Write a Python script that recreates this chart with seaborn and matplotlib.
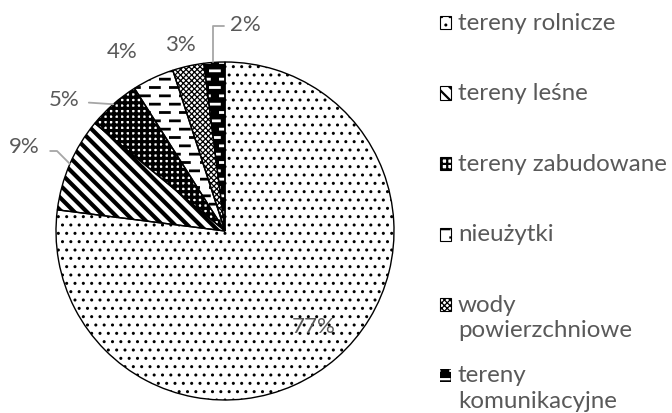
import warnings
import numpy as np
import matplotlib
matplotlib.use("Agg")
import matplotlib.pyplot as plt
import matplotlib.hatch as mhatch
from matplotlib.patches import Patch, Rectangle
from matplotlib.legend_handler import HandlerPatch
import seaborn as sns

warnings.filterwarnings("ignore")

categories = ["tereny rolnicze", "tereny leśne", "tereny zabudowane", "nieużytki",
              "wody\npowierzchniowe", "tereny\nkomunikacyjne"]
values = [77, 9, 5, 4, 3, 2]
pct_labels = ["77%", "9%", "5%", "4%", "3%", "2%"]

sns.set_theme(style="white")
plt.rcParams['font.family'] = ['Lato', 'DejaVu Sans']

TXT = "#595959"
DPI = 100
PX2PT = 72.0 / DPI


class Dashes(mhatch.HatchPatternBase):
    """Staggered short horizontal dashes, hatch char '_'."""
    def __init__(self, hatch, density):
        n = hatch.count('_')
        self.rows = 2 * n * density
        self.cols = max(1, (n * density) // 2 + 2)
        self.num_vertices = self.rows * self.cols * 2 if n else 0

    def set_vertices_and_codes(self, vertices, codes):
        k = 0
        L = 0.45 / self.cols
        for r in range(self.rows):
            y = (r + 0.5) / self.rows
            off = 0.0 if r % 2 == 0 else 0.5 / self.cols
            for c in range(self.cols):
                x0 = c / self.cols + off + 0.02 / self.cols
                vertices[k] = (x0, y)
                vertices[k + 1] = (x0 + L, y)
                codes[k] = mhatch.Path.MOVETO
                codes[k + 1] = mhatch.Path.LINETO
                k += 2


class Diag(mhatch.HatchPatternBase):
    """Back-slash diagonal lines, denser than the builtin, hatch char '~'."""
    def __init__(self, hatch, density):
        self.num_lines = hatch.count('~') * 16
        self.num_vertices = (self.num_lines + 1) * 2 if self.num_lines else 0

    def set_vertices_and_codes(self, vertices, codes):
        steps = np.linspace(-0.5, 0.5, self.num_lines + 1)
        vertices[0::2, 0] = 0.0 + steps
        vertices[0::2, 1] = 1.0 + steps
        vertices[1::2, 0] = 1.0 + steps
        vertices[1::2, 1] = 0.0 + steps
        codes[0::2] = mhatch.Path.MOVETO
        codes[1::2] = mhatch.Path.LINETO


for cls in (Dashes, Diag):
    if cls not in mhatch._hatch_types:
        mhatch._hatch_types.append(cls)

# style per slice: (facecolor, hatchcolor, hatch, hatch linewidth)
styles = [
    ("white", "black", "..", 1.0),
    ("white", "black", "~", 3.0),
    ("white", "black", "+++", 2.3),
    ("white", "black", "_", 2.0),
    ("white", "black", "xxxxxx", 0.9),
    ("black", "white", "_", 2.0),
]

fig = plt.figure(figsize=(6.72, 4.13), dpi=DPI)
FW, FH = 672.0, 413.0
R = 169.0
CX, CY = 225.0, 231.0
W = 2.6 * R
ax = fig.add_axes([(CX - W / 2) / FW, (FH - CY - W / 2) / FH, W / FW, W / FH])

wedges, _ = ax.pie(values, startangle=90, counterclock=False, radius=1.0,
                   wedgeprops=dict(linewidth=0))
for w, (fc, hc, h, hl) in zip(wedges, styles):
    w.set_facecolor(fc)
    w.set_edgecolor(hc)
    w.set_hatch(h)
    if hasattr(w, "set_hatch_linewidth"):
        w.set_hatch_linewidth(hl)
# outlines
ax.pie(values, startangle=90, counterclock=False, radius=1.0,
       wedgeprops=dict(facecolor="none", edgecolor="black", linewidth=1.0))
ax.set_xlim(-1.3, 1.3)
ax.set_ylim(-1.3, 1.3)
ax.set_aspect("equal")
ax.axis("off")

mids = []
for w in wedges:
    a = np.deg2rad((w.theta1 + w.theta2) / 2)
    mids.append((np.cos(a), np.sin(a)))

fs = 16
lc = "#a6a6a6"
# 77% inside
ax.text(0.525, -0.57, pct_labels[0], ha="center", va="center", fontsize=fs, color=TXT)
# 9%
ax.annotate(pct_labels[1], xy=mids[1], xytext=(-1.095, 0.497), ha="right", va="center",
            fontsize=fs, color=TXT,
            arrowprops=dict(arrowstyle="-", color=lc, lw=1.3, shrinkA=5, shrinkB=0,
                            relpos=(1, 0.3),
                            connectionstyle="angle,angleA=0,angleB=135,rad=0"))
# 5%
ax.annotate(pct_labels[2], xy=mids[2], xytext=(-0.858, 0.775), ha="right", va="center",
            fontsize=fs, color=TXT,
            arrowprops=dict(arrowstyle="-", color=lc, lw=1.3, shrinkA=4, shrinkB=0,
                            relpos=(1, 0.4), connectionstyle="arc3,rad=0"))
# 4%, 3%
ax.text(-0.609, 1.059, pct_labels[3], ha="center", va="center", fontsize=fs, color=TXT)
ax.text(-0.266, 1.10, pct_labels[4], ha="center", va="center", fontsize=fs, color=TXT)
# 2%
top_pt = (mids[5][0] * 1.1, np.sqrt(1 - (mids[5][0] * 1.1) ** 2))
ax.annotate(pct_labels[5], xy=top_pt, xytext=(0.03, 1.219),
            ha="left", va="center", fontsize=fs, color=TXT,
            arrowprops=dict(arrowstyle="-", color=lc, lw=1.3, shrinkA=2, shrinkB=0,
                            relpos=(0, 0.45),
                            connectionstyle="angle,angleA=0,angleB=90,rad=0"))

# ---------------- legend (calibrated to the reference layout) ----------------
fig.canvas.draw()
renderer = fig.canvas.get_renderer()

TEXT_X0 = 458.0      # left of legend text, px
TEXT_X1 = 668.0      # right end of the widest label, px
FIRST_CY = 23.0      # centre of the first legend line, px from top
SLOT = 70.6          # distance between legend entries, px
LINE_STEP = 26.0     # line distance inside a two-line label, px
MARK = 11.0          # marker size, px
MARK_GAP = 7.0       # gap marker -> text, px

probe = fig.text(0, 0, "tereny zabudowane", fontsize=20)
lfs = 20 * (TEXT_X1 - TEXT_X0) / probe.get_window_extent(renderer).width
probe.remove()
em = lfs / PX2PT

p1 = fig.text(0, 0, "A", fontsize=lfs, linespacing=1.0)
p2 = fig.text(0, 0, "A\nA", fontsize=lfs, linespacing=1.0)
h1 = p1.get_window_extent(renderer).height
step0 = p2.get_window_extent(renderer).height - h1
p1.remove()
p2.remove()
lsp = LINE_STEP / step0

labels = [c if "\n" in c else c + "\n" for c in categories]
SHIFT_PT = 0.5 * LINE_STEP * PX2PT


def patch_func(legend, orig_handle, xdescent, ydescent, width, height, fontsize):
    return Rectangle((-xdescent, -ydescent + SHIFT_PT), width, height)


handler = HandlerPatch(patch_func=patch_func)


def build_legend(labelspacing, ax_x, ax_y):
    hs = []
    for lab, (fc, hc, h, hl) in zip(labels, styles):
        if fc == "black":
            p = Patch(facecolor="black", edgecolor="white", hatch=h, linewidth=0, label=lab)
        else:
            p = Patch(facecolor=fc, edgecolor="black", hatch=h, linewidth=0.8, label=lab)
        hs.append(p)
    lg = fig.legend(handles=hs, loc="upper left", bbox_to_anchor=(ax_x, ax_y),
                    frameon=False, fontsize=lfs, handlelength=MARK / em,
                    handleheight=MARK / em, handletextpad=MARK_GAP / em,
                    labelspacing=labelspacing, borderaxespad=0, borderpad=0,
                    handler_map={p: handler for p in hs})
    for t in lg.get_texts():
        t.set_color(TXT)
        t.set_linespacing(lsp)
    for lh, (fc, hc, h, hl) in zip(lg.legend_handles, styles):
        if hasattr(lh, "set_hatch_linewidth"):
            lh.set_hatch_linewidth(min(hl, 1.6))
    return lg


ls0 = 1.0
x0 = (TEXT_X0 - MARK - MARK_GAP) / FW
y0 = 1 - 10 / FH
leg = build_legend(ls0, x0, y0)
fig.canvas.draw()
ex = [t.get_window_extent(renderer) for t in leg.get_texts()]
step = ex[0].y1 - ex[1].y1
leg.remove()
ls1 = ls0 + (SLOT - step) / em
leg = build_legend(ls1, x0, y0)
fig.canvas.draw()
e0 = leg.get_texts()[0].get_window_extent(renderer)
cur_top = FH - e0.y1                       # px from top
want_top = FIRST_CY - h1 / 2
dx = TEXT_X0 - e0.x0
leg.remove()
leg = build_legend(ls1, x0 + dx / FW, y0 - (want_top - cur_top) / FH)

fig.savefig("out.png", dpi=DPI)
